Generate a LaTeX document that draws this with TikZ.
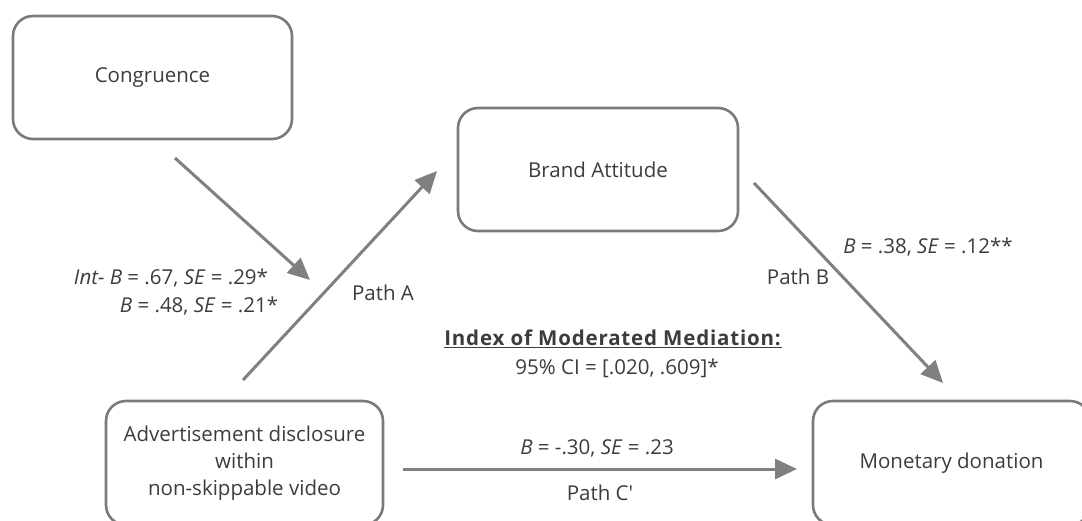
\documentclass[tikz,border=0pt]{standalone}
\usepackage{fontspec}
\setmainfont{Open Sans}[Ligatures=TeXOff]
\usetikzlibrary{arrows.meta}
\definecolor{txt}{HTML}{3C3C3C}
\definecolor{edge}{HTML}{7A7A7A}
\definecolor{arr}{HTML}{808080}
\begin{document}
\begin{tikzpicture}[x=1pt,y=-1pt,
 box/.style={draw=edge,line width=2.6pt,rounded corners=20pt,text=txt,align=center,font=\fontsize{20.5}{27}\selectfont,inner sep=0pt},
 conn/.style={draw=arr,line width=3pt,-{Triangle[length=22pt,width=20pt]}},
 lbl/.style={text=txt,font=\fontsize{20.5}{24}\selectfont,inner sep=0pt}]
\useasboundingbox (0,0) rectangle (1082,520);
\clip (0,0) rectangle (1082,520);
\node[box,minimum width=279pt,minimum height=123pt] (cong) at (152.5,77.5) {Congruence};
\node[box,minimum width=280pt,minimum height=123pt] (brand) at (598,169.5) {Brand Attitude};
\node[box,minimum width=277pt,minimum height=124pt] (adv) at (244.5,463) {Advertisement disclosure\\within\\non-skippable video};
\node[box,minimum width=277pt,minimum height=124pt] (don) at (951.5,463) {Monetary donation};
% connector end points
\coordinate (m1) at (175,158);
\coordinate (m2) at (310,280);
\coordinate (a1) at (243,380);
\coordinate (a2) at (437,171);
\coordinate (b1) at (754,183);
\coordinate (b2) at (943,383);
\coordinate (c1) at (403,469);
\coordinate (c2) at (797,469);
\draw[conn] (m1) -- (m2);
\draw[conn] (a1) -- (a2);
\draw[conn] (b1) -- (b2);
\draw[conn] (c1) -- (c2);
% labels
\node[lbl] (lint) at (171,278) {\textit{Int-} \textit{B} = .67, \textit{SE} = .29*};
\node[lbl] (lmod) at (199,306) {\textit{B} = .48, \textit{SE} = .21*};
\node[lbl] (lpa) at (383,293) {Path A};
\node[lbl] (lidx) at (613,339) {\underline{\addfontfeatures{LetterSpace=4}\textbf{Index of Moderated Mediation:}}};
\node[lbl] (lci) at (617,368) {95\% CI = [.020, .609]*};
\node[lbl] (lc) at (597,448) {\textit{B} = -.30, \textit{SE} = .23};
\node[lbl] (lpc) at (600,493) {Path C'};
\node[lbl] (lb) at (928,247) {\textit{B} = .38, \textit{SE} = .12**};
\node[lbl] (lpb) at (798,277) {Path B};
\end{tikzpicture}
\end{document}
